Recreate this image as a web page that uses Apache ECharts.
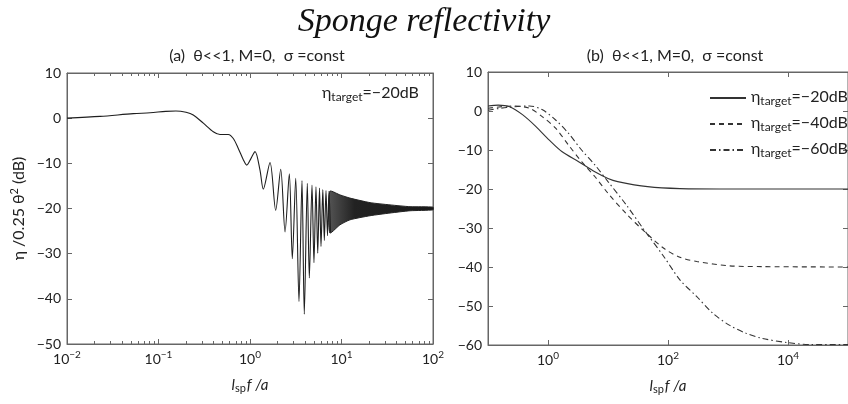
<!DOCTYPE html>
<html><head><meta charset="utf-8">
<script src="https://cdn.jsdelivr.net/npm/echarts@6/dist/echarts.min.js"></script>
<style>html,body{margin:0;padding:0;background:#fff}#c{width:848px;height:404px}</style>
</head><body><div id="c"></div>
<script>
// ---------- Panel (a): reflectivity vs l_sp f / a  (f values, dB values) ----------
const fA = [0.01, 0.023, 0.053, 0.081, 0.12, 0.155, 0.2, 0.24, 0.309, 0.397, 0.47, 0.579, 0.657, 0.745, 0.845, 0.921,
  1.026, 1.135, 1.286, 1.397, 1.655, 1.909, 2.166, 2.415, 2.69, 2.90, 3.16, 3.43, 3.70, 3.92, 4.23, 4.45,
  4.76, 5.00, 5.26, 5.50, 5.75, 5.97, 6.25, 6.49, 6.77, 7.03, 7.30, 7.58];
const dbA = [0, 0.4, 1.0, 1.2, 1.5, 1.6, 1.3, 0.7, -1.1, -3.0, -3.6, -3.6, -4.5, -6.7, -9.2, -10.4,
  -8.9, -7.4, -11.5, -15.7, -9.8, -20.4, -11.3, -25.2, -12.3, -31.1, -13.3, -40.6, -13.8, -43.4, -14.4, -35.4,
  -14.8, -32.0, -15.2, -29.9, -15.5, -28.4, -15.8, -27.1, -16.0, -26.0, -16.2, -25.3];
// dense oscillation region drawn as its envelope band
const fBand = [7.45, 9.64, 12.4, 20.5, 33.9, 56.1, 100];
const bandUpper = [-16.2, -17.0, -17.7, -18.7, -19.2, -19.6, -19.7];
const bandLower = [-25.4, -23.6, -22.5, -21.6, -21.0, -20.5, -20.3];

// ---------- Panel (b): three targets ----------
const f20 = [0.1, 0.148, 0.229, 0.38, 0.631, 1.04, 1.70, 3.24, 6.03, 10, 14.5, 45.7, 158, 1000, 1e5];
const db20 = [1.3, 1.5, 1.1, -1.0, -4.0, -7.4, -10.4, -13.0, -15.6, -17.3, -18.1, -19.4, -19.9, -20.0, -20.0];
const f40 = [0.1, 0.263, 0.49, 0.81, 1.34, 2.19, 3.63, 6.03, 10, 20, 40, 85, 158, 302, 1050, 3700, 1e5];
const db40 = [0.7, 1.3, 0.7, -1.5, -4.4, -8.7, -13.0, -16.8, -21.1, -26.3, -30.8, -35.2, -37.5, -38.6, -39.7, -39.9, -40.0];
const f60 = [0.1, 0.204, 0.49, 0.81, 1.34, 2.19, 3.63, 6.03, 10, 20, 40, 85, 158, 302, 562, 1050, 2000, 3700, 1e4, 2.45e4, 1e5];
const db60 = [0.2, 0.9, 1.3, 0.3, -2.3, -5.7, -10.0, -13.8, -18.1, -24.0, -30.5, -37.3, -43.3, -47.6, -51.9, -54.9, -57.0, -58.3, -59.4, -59.9, -59.9];
const seriesNames = ['η_target=−20dB', 'η_target=−40dB', 'η_target=−60dB'];

// ---------- ticks ----------
const xExpA = [-2, -1, 0, 1, 2];          // decade labels, panel a
const xExpB = [0, 2, 4];                  // decade labels, panel b
const minorMant = [2, 3, 4, 5, 6, 7, 8, 9];
const minorA = [];
[-2, -1, 0, 1].forEach(n => minorMant.forEach(k => minorA.push(n + Math.log10(k))));

const L = v => Math.log10(v);
const pairs = (fs, ds) => fs.map((f, i) => [L(f), ds[i]]);

const AX = '#666', TX = '#222', FONT = 'Lato';
const minus = v => (v < 0 ? '−' + (-v) : '' + v);
const supRich = {
  b: { fontSize: 14, fontFamily: FONT, color: TX, lineHeight: 16, padding: [6, 0, 0, 0], verticalAlign: 'bottom' },
  s: { fontSize: 10, fontFamily: FONT, color: TX, lineHeight: 12, verticalAlign: 'top' }
};
const supFmt = v => '{b|10}{s|' + minus(Math.round(v)) + '}';
const subRich = {
  e: { fontSize: 16, fontFamily: FONT, color: TX, lineHeight: 18, verticalAlign: 'top' },
  s: { fontSize: 12, fontFamily: FONT, color: TX, lineHeight: 13, padding: [9, 0, 0, 0], verticalAlign: 'bottom' }
};
const nameRich = {
  i: { fontSize: 15, fontFamily: FONT, fontStyle: 'italic', color: TX, lineHeight: 16, verticalAlign: 'top' },
  sb: { fontSize: 11, fontFamily: FONT, color: TX, lineHeight: 12, padding: [7, 1, 0, 0], verticalAlign: 'bottom' }
};
const xName = '{i|l}{sb|sp}{i|f /a}';

function xAx(grid, min, max, pos, opts) {
  return Object.assign({
    gridIndex: grid, type: 'value', min: min, max: max, position: pos,
    axisLine: { show: true, onZero: false, lineStyle: { color: AX, width: 1 } },
    axisTick: { show: true, inside: true, length: 5, lineStyle: { color: AX } },
    axisLabel: { show: false },
    splitLine: { show: false }
  }, opts);
}
function yAx(grid, min, max, pos, opts) {
  return Object.assign({
    gridIndex: grid, type: 'value', min: min, max: max, interval: 10, position: pos,
    axisLine: { show: true, onZero: false, lineStyle: { color: AX, width: 1 } },
    axisTick: { show: true, inside: true, length: 5, lineStyle: { color: AX } },
    axisLabel: { show: false },
    splitLine: { show: false }
  }, opts);
}
const minorTickOpts = {
  axisLine: { show: false, onZero: false },
  axisTick: { show: true, inside: true, length: 3, customValues: minorA, lineStyle: { color: AX } }
};

const chart = echarts.init(document.getElementById('c'), null, { renderer: 'canvas' });
const option = {
  backgroundColor: '#fff',
  animation: false,
  title: [
    { text: 'Sponge reflectivity', left: 'center', top: 0,
      textStyle: { fontFamily: 'Liberation Serif', fontStyle: 'italic', fontWeight: 'normal', fontSize: 34, color: '#111' } },
    { text: '(a)  θ<<1, M=0,  σ =const', left: 252, top: 43, textAlign: 'center',
      textStyle: { fontFamily: FONT, fontWeight: 'normal', fontSize: 16, color: TX } },
    { text: '(b)  θ<<1, M=0,  σ =const', left: 670, top: 43, textAlign: 'center',
      textStyle: { fontFamily: FONT, fontWeight: 'normal', fontSize: 16, color: TX } }
  ],
  grid: [
    { left: 67, right: 415, top: 73, bottom: 60, show: true, borderColor: AX, borderWidth: 1, backgroundColor: 'transparent' },
    { left: 488, right: -6, top: 72, bottom: 59, show: true, borderColor: AX, borderWidth: 1, backgroundColor: 'transparent' }
  ],
  xAxis: [
    xAx(0, -2, 2, 'bottom', {
      interval: 1,
      axisLabel: { show: true, margin: 6, formatter: supFmt, rich: supRich, customValues: xExpA },
      name: xName, nameLocation: 'middle', nameGap: 34, nameTextStyle: { rich: nameRich }
    }),
    xAx(0, -2, 2, 'bottom', minorTickOpts),
    xAx(0, -2, 2, 'top', { interval: 1 }),
    xAx(0, -2, 2, 'top', minorTickOpts),
    xAx(1, -1, 5, 'bottom', {
      axisTick: { show: true, inside: true, length: 5, customValues: xExpB, lineStyle: { color: AX } },
      axisLabel: { show: true, margin: 6, formatter: supFmt, rich: supRich, customValues: xExpB },
      name: xName, nameLocation: 'middle', nameGap: 34, nameTextStyle: { rich: nameRich }
    }),
    xAx(1, -1, 5, 'top', { axisTick: { show: true, inside: true, length: 5, customValues: xExpB, lineStyle: { color: AX } } })
  ],
  yAxis: [
    yAx(0, -50, 10, 'left', {
      axisLabel: { show: true, margin: 6, fontFamily: FONT, fontSize: 14, color: TX, formatter: minus },
      name: '{n|η /0.25 θ}{s|2}{n| (dB)}', nameLocation: 'middle', nameGap: 40, nameRotate: 90,
      nameTextStyle: { rich: {
        n: { fontSize: 16, fontFamily: FONT, color: TX, lineHeight: 18, padding: [5, 0, 0, 0], verticalAlign: 'bottom' },
        s: { fontSize: 11, fontFamily: FONT, color: TX, lineHeight: 12, verticalAlign: 'top' } } }
    }),
    yAx(0, -50, 10, 'right', {}),
    yAx(1, -60, 10, 'left', {
      axisLabel: { show: true, margin: 6, fontFamily: FONT, fontSize: 14, color: TX, formatter: minus }
    }),
    yAx(1, -60, 10, 'right', {})
  ],
  legend: {
    orient: 'vertical', left: 704, top: 81, itemGap: 5, itemWidth: 36, itemHeight: 14,
    data: seriesNames,
    formatter: name => '{e|η}{s|target}{e|=' + name.split('=')[1] + '}',
    textStyle: { rich: subRich, color: TX },
    itemStyle: { opacity: 0 },
    selectedMode: false
  },
  graphic: [{
    type: 'text', left: 322, top: 82,
    style: { text: '{e|η}{s|target}{e|=−20dB}', rich: subRich, fill: TX }
  }],
  series: [
    { type: 'line', xAxisIndex: 0, yAxisIndex: 0, data: pairs(fA, dbA), showSymbol: false, symbol: 'none',
      smooth: 0.3, lineStyle: { color: '#1e1e1e', width: 1.1 } },
    { type: 'custom', xAxisIndex: 0, yAxisIndex: 0, data: [[L(fBand[0]), bandUpper[0]]],
      renderItem: function (params, api) {
        const pts = [];
        for (let i = 0; i < fBand.length; i++) pts.push(api.coord([L(fBand[i]), bandUpper[i]]));
        for (let i = fBand.length - 1; i >= 0; i--) pts.push(api.coord([L(fBand[i]), bandLower[i]]));
        return { type: 'polygon', shape: { points: pts, smooth: 0.2 },
          style: { fill: new echarts.graphic.LinearGradient(0, 0, 1, 0, [
            { offset: 0, color: '#555' }, { offset: 0.25, color: '#222' }, { offset: 1, color: '#1a1a1a' }]),
            stroke: '#222', lineWidth: 1 } };
      } },
    { name: seriesNames[0], type: 'line', xAxisIndex: 4, yAxisIndex: 2, data: pairs(f20, db20), symbol: 'none',
      smooth: 0.3, lineStyle: { color: '#333', width: 1.1, type: 'solid' } },
    { name: seriesNames[1], type: 'line', xAxisIndex: 4, yAxisIndex: 2, data: pairs(f40, db40), symbol: 'none',
      smooth: 0.3, lineStyle: { color: '#333', width: 1.1, type: [5, 4] } },
    { name: seriesNames[2], type: 'line', xAxisIndex: 4, yAxisIndex: 2, data: pairs(f60, db60), symbol: 'none',
      smooth: 0.3, lineStyle: { color: '#333', width: 1.1, type: [6, 3, 1.5, 3] } }
  ]
};
chart.setOption(option);
</script>
</body></html>
